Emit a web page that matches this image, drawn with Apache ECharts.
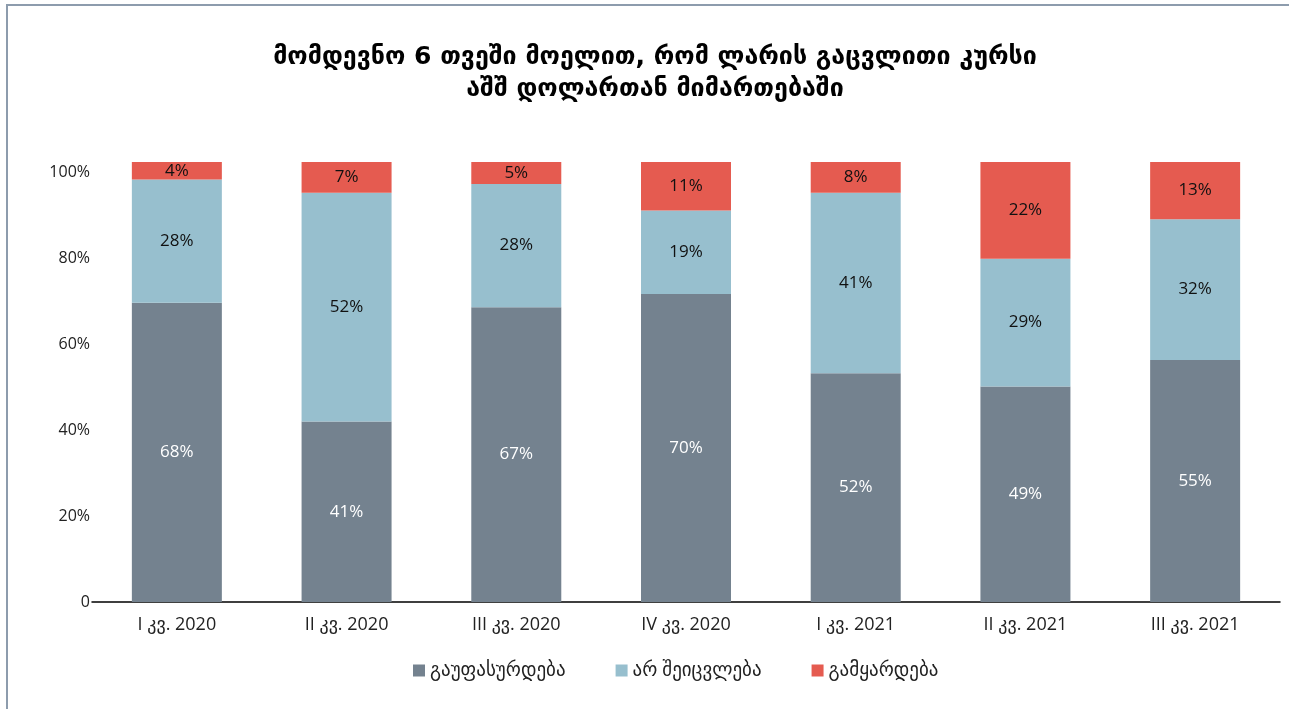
<!DOCTYPE html>
<html>
<head>
<meta charset="utf-8">
<script src="https://cdn.jsdelivr.net/npm/echarts@6/dist/echarts.min.js"></script>
<style>
  html, body { margin: 0; padding: 0; background: #fff; overflow: hidden; }
  #frame {
    position: absolute; left: 6px; top: 4px; width: 2000px; height: 2000px;
    border: 2px solid #8d9cad;
  }
  #myChart { position: absolute; left: 0; top: 0; width: 1289px; height: 709px; }
</style>
</head>
<body>
<div id="frame"></div>
<div id="myChart"></div>
<script>
// კვარტლები
var categories = ["I კვ. 2020", "II კვ. 2020", "III კვ. 2020", "IV კვ. 2020", "I კვ. 2021", "II კვ. 2021", "III კვ. 2021"];
var seriesNames = ["გაუფასურდება", "არ შეიცვლება", "გამყარდება"];
var depreciate = [68, 41, 67, 70, 52, 49, 55];
var noChange = [28, 52, 28, 19, 41, 29, 32];
var appreciate = [4, 7, 5, 11, 8, 22, 13];
var tickLabels = [0, 20, 40, 60, 80, 100];

var font = "'Open Sans', 'DejaVu Sans', sans-serif";
var colors = ["#74828f", "#97bfce", "#e55b50"];

function makeSeries(name, data, color, labelColor) {
  return {
    name: name,
    type: "bar",
    stack: "total",
    yAxisIndex: 0,
    barWidth: 90,
    data: data,
    itemStyle: { color: color },
    label: {
      show: true,
      position: "inside",
      formatter: "{c}%",
      color: labelColor,
      fontSize: 17,
      fontFamily: font
    }
  };
}

var myChart = echarts.init(document.getElementById("myChart"));
var option = {
  animation: false,
  title: {
    text: "მომდევნო 6 თვეში მოელით, რომ ლარის გაცვლითი კურსი\nაშშ დოლართან მიმართებაში",
    left: 650,
    top: 36,
    textAlign: "center",
    textStyle: {
      fontFamily: "'DejaVu Sans', sans-serif",
      fontWeight: "bold",
      fontSize: 25,
      lineHeight: 32,
      color: "#000"
    }
  },
  legend: {
    data: seriesNames,
    bottom: 24,
    left: 408,
    itemWidth: 12,
    itemHeight: 12,
    itemGap: 50,
    icon: "rect",
    textStyle: { fontFamily: font, fontSize: 19, color: "#222" }
  },
  grid: { left: 92, right: 9, top: 162, bottom: 107, containLabel: false },
  xAxis: {
    type: "category",
    data: categories,
    axisLine: { show: true, lineStyle: { color: "#000", width: 1.5 } },
    axisTick: { show: false },
    axisLabel: { fontFamily: font, fontSize: 18, color: "#222", margin: 14 }
  },
  yAxis: [
    {
      type: "value",
      min: 0,
      max: 100,
      show: false
    },
    {
      // tick labels sit on a slightly shorter scale, as in the original
      type: "value",
      position: "left",
      min: 0,
      max: 102.33,
      interval: 20,
      axisLine: { show: false },
      axisTick: { show: false },
      splitLine: { show: false },
      axisLabel: {
        fontFamily: font,
        fontSize: 16,
        color: "#222",
        margin: 2,
        formatter: function (v) {
          if (tickLabels.indexOf(v) < 0) return "";
          return v === 0 ? "0" : v + "%";
        }
      }
    }
  ],
  series: [
    makeSeries(seriesNames[0], depreciate, colors[0], "#fff"),
    makeSeries(seriesNames[1], noChange, colors[1], "#111"),
    makeSeries(seriesNames[2], appreciate, colors[2], "#111")
  ]
};
myChart.setOption(option);
</script>
</body>
</html>
